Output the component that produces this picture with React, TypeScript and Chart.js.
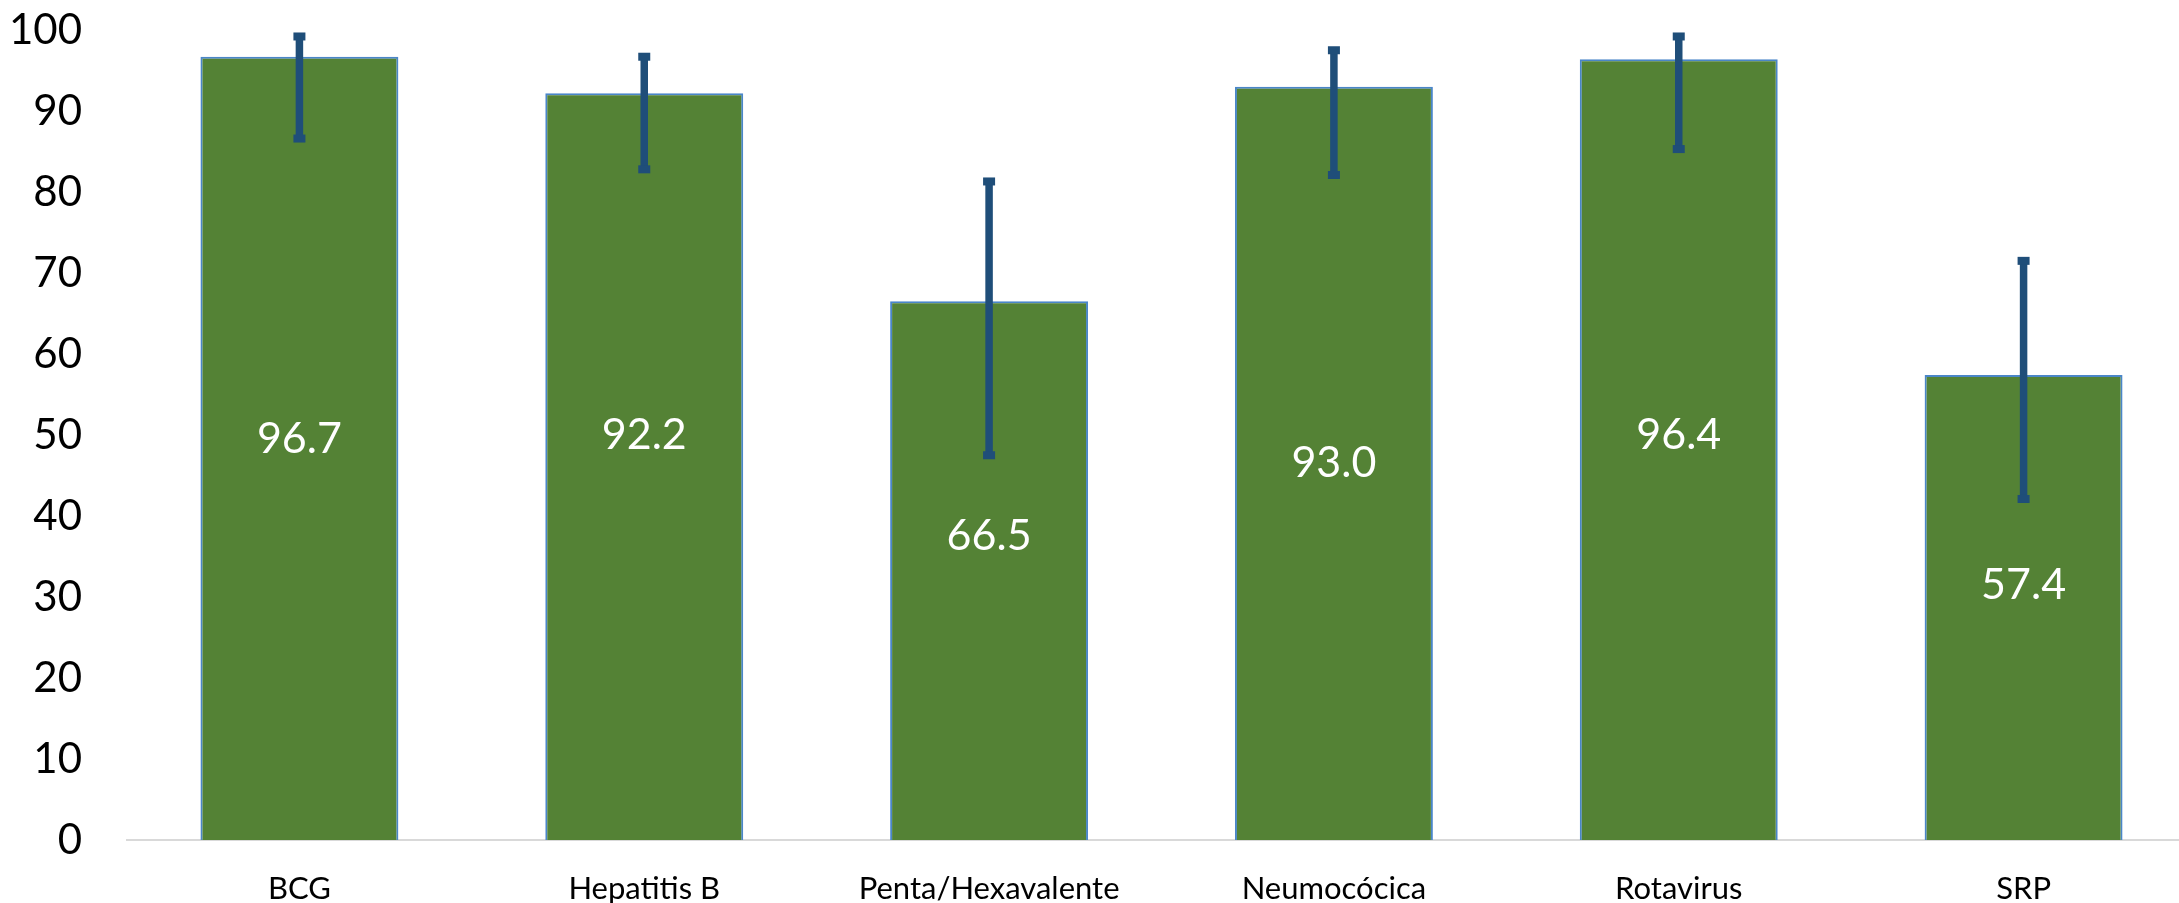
import React, { useEffect, useRef } from "react";
import { Chart, registerables } from "chart.js";

Chart.register(...registerables);

const categories = ["BCG", "Hepatitis B", "Penta/Hexavalente", "Neumocócica", "Rotavirus", "SRP"];
const coverage = [96.7, 92.2, 66.5, 93.0, 96.4, 57.4];
const ciUpper = [99.2, 96.7, 81.3, 97.5, 99.2, 71.5];
const ciLower = [86.6, 82.8, 47.5, 82.1, 85.3, 42.1];
const labelLevel = [49.5, 50.0, 37.5, 46.5, 50.0, 31.5];
const yTicks = [0, 10, 20, 30, 40, 50, 60, 70, 80, 90, 100];

const FONT = "Lato, 'Open Sans', sans-serif";

const errorBarPlugin = {
  id: "errorBars",
  afterDatasetsDraw(chart: any) {
    const { ctx } = chart;
    const xs = chart.scales.x;
    const ys = chart.scales.y;
    ctx.save();
    ctx.fillStyle = "#1f4e79";
    ctx.strokeStyle = "#1f4e79";
    for (let i = 0; i < categories.length; i++) {
      const x = xs.getPixelForValue(i);
      const yt = ys.getPixelForValue(ciUpper[i]);
      const yb = ys.getPixelForValue(ciLower[i]);
      ctx.lineWidth = 7.5;
      ctx.beginPath();
      ctx.moveTo(x, yt);
      ctx.lineTo(x, yb);
      ctx.stroke();
      ctx.fillRect(x - 6, yt - 4, 12, 8);
      ctx.fillRect(x - 6, yb - 4, 12, 8);
    }
    // data labels
    ctx.fillStyle = "#ffffff";
    ctx.font = `43px ${FONT}`;
    ctx.textAlign = "center";
    ctx.textBaseline = "middle";
    for (let i = 0; i < categories.length; i++) {
      const x = xs.getPixelForValue(i);
      const y = ys.getPixelForValue(labelLevel[i]);
      ctx.fillText(coverage[i].toFixed(1), x, y);
    }
    ctx.restore();
  },
};

export default function App() {
  const ref = useRef<HTMLCanvasElement>(null);
  useEffect(() => {
    if (!ref.current) return;
    const chart = new Chart(ref.current, {
      type: "bar",
      data: {
        labels: categories,
        datasets: [
          {
            data: coverage,
            backgroundColor: "#548235",
            borderColor: "#4a86c8",
            borderWidth: 2,
            categoryPercentage: 1,
            barPercentage: 0.574,
          },
        ],
      },
      options: {
        responsive: false,
        animation: false,
        devicePixelRatio: 1,
        layout: { padding: { top: 30, left: 0, right: 0, bottom: 0 } },
        plugins: { legend: { display: false }, tooltip: { enabled: false } },
        scales: {
          x: {
            grid: { display: false, drawTicks: false },
            border: { display: true, color: "#d9d9d9", width: 2 },
            ticks: { color: "#000", font: { family: FONT, size: 31 }, padding: 30, maxRotation: 0, autoSkip: false },
            afterFit: (s: any) => {
              s.height = 63;
              s.paddingLeft = 0;
              s.paddingRight = 0;
            },
          },
          y: {
            min: 0,
            max: 100,
            afterBuildTicks: (s: any) => {
              s.ticks = yTicks.map((v) => ({ value: v }));
            },
            grid: { display: false, drawTicks: false },
            border: { display: false },
            ticks: { color: "#000", font: { family: FONT, size: 42 }, padding: 45 },
            afterFit: (s: any) => {
              s.width = 127;
              s.paddingTop = 0;
              s.paddingBottom = 0;
            },
          },
        },
      },
      plugins: [errorBarPlugin],
    });
    return () => chart.destroy();
  }, []);
  return (
    <div style={{ position: "absolute", left: 0, top: 0, width: 2179, height: 903, overflow: "hidden", background: "#fff" }}>
      <canvas ref={ref} width={2196} height={903} style={{ display: "block" }} />
    </div>
  );
}
